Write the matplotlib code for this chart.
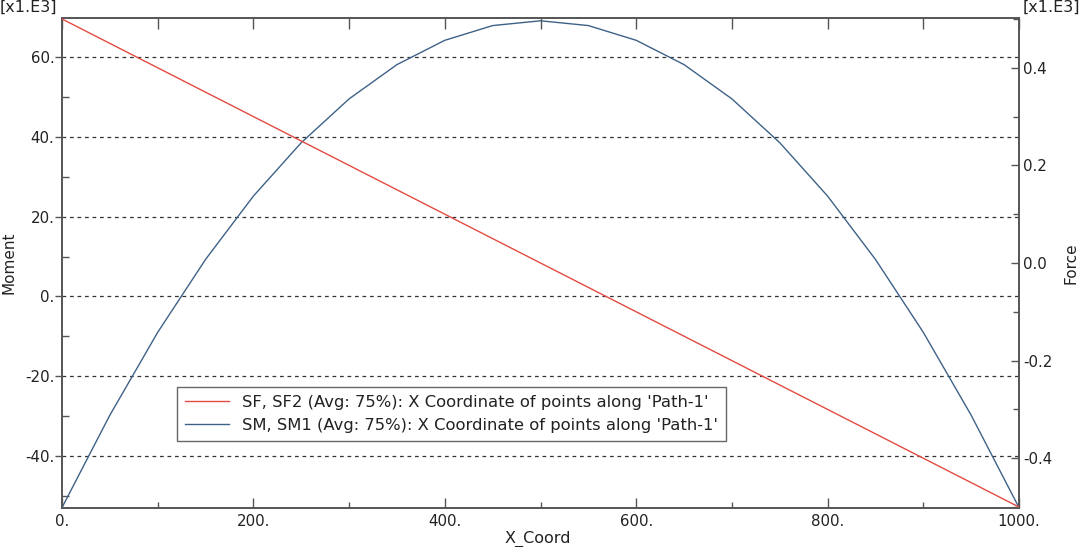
import matplotlib
matplotlib.use("Agg")
import matplotlib.pyplot as plt
from matplotlib.ticker import FuncFormatter, MultipleLocator

# ---- data (x1.E3 units) ----
x_coord = [0, 50, 100, 150, 200, 250, 300, 350, 400, 450, 500,
           550, 600, 650, 700, 750, 800, 850, 900, 950, 1000]
sm1 = [-53.0, -29.8, -9.0, 9.3, 25.2, 38.6, 49.6, 58.2, 64.3, 68.0, 69.2,
       68.0, 64.3, 58.2, 49.6, 38.6, 25.2, 9.3, -9.0, -29.8, -53.0]
sf2 = [0.50, 0.45, 0.40, 0.35, 0.30, 0.25, 0.20, 0.15, 0.10, 0.05, 0.00,
       -0.05, -0.10, -0.15, -0.20, -0.25, -0.30, -0.35, -0.40, -0.45, -0.50]

sf_label = "SF, SF2 (Avg: 75%): X Coordinate of points along 'Path-1'"
sm_label = "SM, SM1 (Avg: 75%): X Coordinate of points along 'Path-1'"

RED = "#e34a42"
BLUE = "#3e6287"
TXT = "#222222"
SPINE = "#555555"
TICK_FS = 10.8

plt.rcParams['font.family'] = ['DejaVu Sans']
fig = plt.figure(figsize=(10.8, 5.47), dpi=100)
ax = fig.add_axes([62/1080, 39/547, (1019-62)/1080, (508-18)/547])
ax2 = ax.twinx()

l_sm, = ax.plot(x_coord, sm1, color=BLUE, lw=1.0, zorder=3)
l_sf, = ax2.plot(x_coord, sf2, color=RED, lw=1.0, zorder=3)

ax.set_xlim(0, 1000)
ax.set_ylim(-53.1, 69.9)
ax2.set_ylim(-0.502, 0.502)

# ticks
ax.xaxis.set_major_locator(MultipleLocator(200))
ax.xaxis.set_minor_locator(MultipleLocator(100))
ax.yaxis.set_major_locator(MultipleLocator(20))
ax.yaxis.set_minor_locator(MultipleLocator(10))
ax2.yaxis.set_major_locator(MultipleLocator(0.2))
ax2.yaxis.set_minor_locator(MultipleLocator(0.1))

ax.xaxis.set_major_formatter(FuncFormatter(lambda v, p: f"{v:.0f}."))
ax.yaxis.set_major_formatter(FuncFormatter(lambda v, p: f"{v:.0f}."))
ax2.yaxis.set_major_formatter(FuncFormatter(lambda v, p: f"{v:.1f}".replace("-0.0", "0.0")))

ax.tick_params(axis='x', which='major', direction='in', length=7, width=1,
               color=SPINE, labelsize=TICK_FS, labelcolor=TXT, pad=4)
ax.tick_params(axis='x', which='minor', direction='in', length=4, width=1, color=SPINE)
ax.tick_params(axis='y', which='major', direction='out', length=5, width=1,
               color=SPINE, labelsize=TICK_FS, labelcolor=TXT, pad=0.5)
ax.tick_params(axis='y', which='minor', direction='in', length=5, width=1, color=SPINE)
ax2.tick_params(axis='y', which='major', direction='in', length=6, width=1,
                color=SPINE, labelsize=TICK_FS, labelcolor=TXT, pad=3)
ax2.tick_params(axis='y', which='minor', direction='in', length=4, width=1, color=SPINE)

# top ticks every 100
top = ax.secondary_xaxis('top')
top.xaxis.set_major_locator(MultipleLocator(100))
top.tick_params(direction='in', length=8, width=1, color=SPINE, labeltop=False)
top.spines['top'].set_visible(False)

for a in (ax, ax2):
    for s in a.spines.values():
        s.set_color(SPINE)
        s.set_linewidth(1.2)

# horizontal dashed grid at left major ticks
ax.yaxis.grid(True, which='major', linestyle=(0, (3, 3)), color='#333333', lw=0.9)
ax.set_axisbelow(True)

ax.set_xlabel("X_Coord", fontsize=11.5, color=TXT)
ax.set_ylabel("Moment", fontsize=11, color=TXT)
ax2.set_ylabel("Force", fontsize=11, color=TXT)
ax.xaxis.set_label_coords(0.497, -0.046)
ax.yaxis.set_label_coords(-0.048, 0.5)
ax2.yaxis.set_label_coords(1.047, 0.5)

fig.text(0.0, 1.0, "[x1.E3]", ha='left', va='top', fontsize=11.5, color=TXT)
fig.text(1.0, 1.0, "[x1.E3]", ha='right', va='top', fontsize=11.5, color=TXT)

leg = ax2.legend([l_sf, l_sm], [sf_label, sm_label], loc='upper left',
                 bbox_to_anchor=(177/1080, 1 - 387/547), bbox_transform=fig.transFigure,
                 fontsize=11.8, frameon=True, fancybox=False, framealpha=1,
                 edgecolor='#666666', handlelength=2.7, handletextpad=0.75,
                 borderpad=0.5, labelspacing=0.45, borderaxespad=0)
leg.get_frame().set_linewidth(1.0)
for t in leg.get_texts():
    t.set_color(TXT)

fig.savefig("out.png", dpi=100)
